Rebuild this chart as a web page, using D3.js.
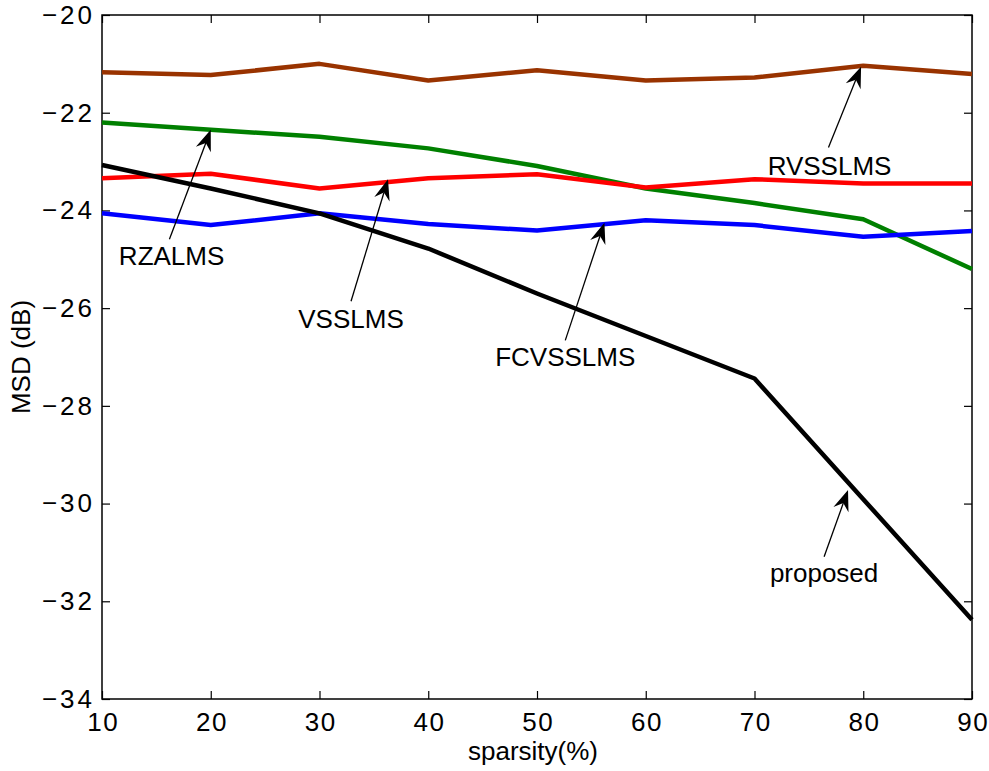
<!DOCTYPE html>
<html>
<head>
<meta charset="utf-8">
<script src="https://cdn.jsdelivr.net/npm/d3@7"></script>
<style>
  html, body { margin: 0; padding: 0; background: #fff; }
  svg text { font-family: "Liberation Sans", Arial, Helvetica, sans-serif; fill: #000; }
</style>
</head>
<body>
<svg id="chart" width="989" height="771"></svg>
<script>
const sparsity = [10, 20, 30, 40, 50, 60, 70, 80, 90];
const xTicks = [10, 20, 30, 40, 50, 60, 70, 80, 90];
const yTicks = [-20, -22, -24, -26, -28, -30, -32, -34];

const rvsslms  = [-21.17, -21.23, -21.00, -21.34, -21.13, -21.34, -21.28, -21.04, -21.21];
const rzalms   = [-22.20, -22.35, -22.49, -22.73, -23.09, -23.55, -23.85, -24.18, -25.20];
const vsslms   = [-23.34, -23.25, -23.55, -23.34, -23.26, -23.53, -23.36, -23.45, -23.45];
const fcvsslms = [-24.06, -24.30, -24.06, -24.28, -24.41, -24.20, -24.30, -24.54, -24.42];
const proposed = [-23.07, -23.55, -24.06, -24.78, -25.70, -26.57, -27.44, -29.91, -32.38];

const seriesNames  = ["RVSSLMS", "RZALMS", "VSSLMS", "FCVSSLMS", "proposed"];
const seriesValues = [rvsslms, rzalms, vsslms, fcvsslms, proposed];
const seriesColors = ["#993300", "#008000", "#ff0000", "#0000ff", "#000000"];

// annotations: label, pointed point, arrow tail and text anchor (data units)
const annLabels   = ["RZALMS", "VSSLMS", "FCVSSLMS", "RVSSLMS", "proposed"];
const annTipX     = [20, 36.3, 56.2, 79.8, 78.6];
const annTipY     = [-22.35, -23.36, -24.25, -21.06, -29.72];
const annTailX    = [16.2, 32.9, 52.6, 76.8, 76.4];
const annTailY    = [-24.59, -25.86, -26.66, -22.71, -31.09];
const annTextX    = [16.4, 32.9, 52.6, 76.9, 76.4];
const annTextY    = [-25.12, -26.40, -27.19, -23.27, -31.60];

const W = 989, H = 771;
const margin = {left: 102, right: 17, top: 15, bottom: 72};
const svg = d3.select("#chart");

const x = d3.scaleLinear().domain([10, 90]).range([margin.left, W - margin.right]);
const y = d3.scaleLinear().domain([-34, -20]).range([H - margin.bottom, margin.top]);

const fontSize = 26;
const tickLen = 8;

// frame
svg.append("rect")
  .attr("x", x(10)).attr("y", y(-20))
  .attr("width", x(90) - x(10)).attr("height", y(-34) - y(-20))
  .attr("fill", "none").attr("stroke", "#000").attr("stroke-width", 1.5);

// axes with inward ticks
const fmt = d => d < 0 ? "\u2212" + Math.abs(d) : String(d);
const gx = svg.append("g").attr("transform", `translate(0,${y(-34)})`)
  .call(d3.axisBottom(x).tickValues(xTicks).tickSize(-tickLen).tickPadding(14).tickFormat(fmt));
const gxTop = svg.append("g").attr("transform", `translate(0,${y(-20)})`)
  .call(d3.axisTop(x).tickValues(xTicks).tickSize(-tickLen).tickFormat(""));
const gy = svg.append("g").attr("transform", `translate(${x(10)},0)`)
  .call(d3.axisLeft(y).tickValues(yTicks).tickSize(-tickLen).tickPadding(7).tickFormat(fmt));
const gyR = svg.append("g").attr("transform", `translate(${x(90)},0)`)
  .call(d3.axisRight(y).tickValues(yTicks).tickSize(-tickLen).tickFormat(""));

[gx, gxTop, gy, gyR].forEach(g => {
  g.select(".domain").remove();
  g.selectAll(".tick line").attr("stroke", "#000").attr("stroke-width", 1.2);
  g.selectAll("text").style("font-size", fontSize + "px")
    .style("font-family", '"Liberation Sans", Arial, sans-serif').attr("fill", "#000");
});
gy.selectAll("text").style("letter-spacing", "3px");
gx.selectAll("text").style("letter-spacing", "1.5px").attr("dx", "0.75px");

// axis labels
svg.append("text")
  .attr("x", (x(10) + x(90)) / 2 - 4).attr("y", 760)
  .attr("text-anchor", "middle").style("font-size", fontSize + "px")
  .text("sparsity(%)");
svg.append("text")
  .attr("transform", `translate(30,${(y(-20) + y(-34)) / 2}) rotate(-90)`)
  .attr("text-anchor", "middle").style("font-size", fontSize + "px")
  .text("MSD (dB)");

// lines
const line = d3.line().x((d, i) => x(sparsity[i])).y(d => y(d));
seriesValues.forEach((vals, k) => {
  svg.append("path")
    .datum(vals)
    .attr("d", line)
    .attr("fill", "none")
    .attr("stroke", seriesColors[k])
    .attr("stroke-width", 4.5)
    .attr("stroke-linejoin", "round")
    .attr("stroke-linecap", "butt")
    .attr("class", "series-" + seriesNames[k]);
});

// annotations
annLabels.forEach((lab, i) => {
  const tx = x(annTipX[i]), ty = y(annTipY[i]);
  const sx = x(annTailX[i]), sy = y(annTailY[i]);
  const ang = Math.atan2(ty - sy, tx - sx);
  const L = 21, Wd = 8, back = 14;
  const ux = Math.cos(ang), uy = Math.sin(ang);
  const px = -uy, py = ux;
  const bx = tx - ux * L, by = ty - uy * L;
  const nx = tx - ux * back, ny = ty - uy * back;
  svg.append("line")
    .attr("x1", sx).attr("y1", sy).attr("x2", nx).attr("y2", ny)
    .attr("stroke", "#000").attr("stroke-width", 1.3);
  svg.append("path")
    .attr("d", `M${tx},${ty} L${bx + px * Wd},${by + py * Wd} L${nx},${ny} L${bx - px * Wd},${by - py * Wd} Z`)
    .attr("fill", "#000");
  svg.append("text")
    .attr("x", x(annTextX[i])).attr("y", y(annTextY[i]))
    .attr("text-anchor", "middle").style("font-size", fontSize + "px")
    .text(lab);
});
</script>
</body>
</html>
